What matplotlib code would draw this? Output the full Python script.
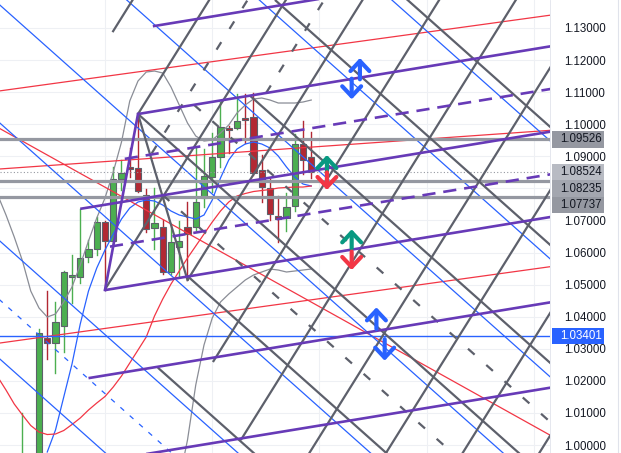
import matplotlib.pyplot as plt
from matplotlib.patches import Rectangle
from matplotlib.lines import Line2D
import numpy as np

plt.rcParams['font.family'] = ['Liberation Sans', 'DejaVu Sans']

# candles: bar index, open, high, low, close
c_bar = [0, 2, 3, 4, 5, 6, 7, 8, 9, 10, 11, 12, 13, 14, 15, 16, 17, 18,
         19, 20, 21, 22, 23, 24, 25, 26, 27, 28, 29, 30, 31, 32, 33, 34, 35]
c_open = [0.9820, 0.9900, 1.03335, 1.03180, 1.03709, 1.05237, 1.05237, 1.05860,
          1.06110, 1.06951, 1.06359, 1.08292, 1.08666, 1.08635, 1.07793, 1.06764,
          1.06796, 1.05393, 1.06172, 1.06796, 1.06796, 1.07700, 1.08354, 1.08978,
          1.09882, 1.09882, 1.10193, 1.10224, 1.08572, 1.08011, 1.07138, 1.07076,
          1.07450, 1.09383, 1.08978]
c_high = [1.00998, 1.03616, 1.04800, 1.04458, 1.05424, 1.05923, 1.07357, 1.06390,
          1.07107, 1.06983, 1.08666, 1.08884, 1.09258, 1.10318, 1.07980, 1.08011,
          1.07014, 1.06889, 1.06983, 1.07575, 1.09289, 1.09227, 1.09726, 1.10692,
          1.09944, 1.10941, 1.10941, 1.10973, 1.09040, 1.08292, 1.07762, 1.07855,
          1.09694, 1.10100, 1.09757]
c_low = [0.9800, 0.9850, 1.02681, 1.02244, 1.02899, 1.04426, 1.05050, 1.05704,
         1.05923, 1.04832, 1.06234, 1.07949, 1.08354, 1.07887, 1.06640, 1.06110,
         1.05330, 1.05330, 1.05237, 1.05143, 1.06702, 1.07419, 1.07887, 1.08666,
         1.09102, 1.09850, 1.09414, 1.08416, 1.07575, 1.07014, 1.06328, 1.06671,
         1.07294, 1.08448, 1.08323]
c_close = [0.9960, 1.03491, 1.03180, 1.03834, 1.05393, 1.05268, 1.05829, 1.06110,
           1.06951, 1.06359, 1.08292, 1.08479, 1.08603, 1.07918, 1.06733, 1.06920,
           1.05393, 1.06328, 1.06359, 1.06577, 1.07575, 1.08385, 1.08978, 1.09913,
           1.09819, 1.10100, 1.10131, 1.08479, 1.08042, 1.07201, 1.07045, 1.07419,
           1.09383, 1.08884, 1.08524]

# indicators
ma_bar = list(range(-3, 36))
red_ma = [1.02120, 1.01714, 1.01278, 1.00935, 1.00608, 1.00405, 1.00327, 1.00343,
          1.00452, 1.00639, 1.00842, 1.01091, 1.01309, 1.01512, 1.01808, 1.02151,
          1.02556, 1.02961, 1.03367, 1.04021, 1.04551, 1.05019, 1.05424, 1.05829,
          1.06203, 1.06577, 1.06951, 1.07294, 1.07575, 1.07762, 1.07840, 1.07902,
          1.07933, 1.07965, 1.08011, 1.08027, 1.08042, 1.08042, 1.08074]
band_up = [1.07793, 1.07170, 1.06484, 1.05736, 1.04800, 1.04271, 1.03990, 1.04084,
           1.04458, 1.04925, 1.05611, 1.06359, 1.07076, 1.07700, 1.08510, 1.09445,
           1.10723, 1.11347, 1.11627, 1.11658, 1.11596, 1.11160, 1.10599, 1.10037,
           1.09632, 1.09476, 1.09507, 1.09726, 1.09975, 1.10349, 1.10599, 1.10786,
           1.10817, 1.10754, 1.10661, 1.10661, 1.10661, 1.10692, 1.10754]
basis_bar = list(range(3, 36))
basis = [0.99782, 1.00468, 1.01496, 1.02525, 1.03772, 1.04800, 1.05517, 1.06079,
         1.06577, 1.07045, 1.07388, 1.07575, 1.07637, 1.07606, 1.07481, 1.07294,
         1.07170, 1.07107, 1.07045, 1.07170, 1.07637, 1.08323, 1.08884, 1.09227,
         1.09383, 1.09445, 1.09383, 1.09258, 1.09009, 1.08666, 1.08354, 1.08136,
         1.08074]
lo_bar = list(range(19, 36))
band_lo = [0.98909, 1.00156, 1.01870, 1.03117, 1.03959, 1.04458, 1.04707, 1.04925,
           1.05143, 1.05299, 1.05393, 1.05486, 1.05455, 1.05393, 1.05424, 1.05455,
           1.05486]

# drawing tools: purple parallel channel (anchor bar 14)
pur_slope = 0.000422
pur_base = 1.10318
pur_step = 0.0266
pur_k = [1, 0, -1, -2, -3, -4]
pur_start = [15.8, 14, 7, 10, 8, 13]
pur_dash_k = [-0.5, -1.5]
pur_dash_start = [12.4, 10.6]
pivot_a = (10, 1.04832)
pivot_b = (14, 1.10318)
pivot_c = (20, 1.05143)

# steep gray fan lines: offset in bars at price pur_base, start price
st_slope = 0.004115
st_step = 9.29
st_k = [-1, 0, 1, 2, 3, 4, 5, 6, 7, 8]
st_start = [1.1287, 1.10318, 1.04832, 1.05143, 1.02587, 1.00156, 0.99, 0.99, 0.99, 0.99]
st_dash_k = [0.5, 1.5]
st_dash_start = [1.09093, 1.10973]

# down-sloping gray lines through pivot B
dn_slope = -0.002289
dn_step = 0.03678
dn_k = [-3, -2, -1, 0, 1, 2]
dn_start = [36.5, 30.6, 27.6, 14, 20, 16.4]
dn_dash_k = [-0.5, 0.5]
dn_dash_start = [20.8, 17.0]

# thin blue parallels
bl_base = 1.09882
bl_k = [-3, -2, -1, 0, 1, 2, 3]
bl_dash_k = [2.5]

# thin red trend lines: (bar0, p0, bar1, p1)
red_lines = [(-3, 1.1103, 64, 1.1340), (-3, 1.0860, 64, 1.0981),
             (-3, 1.0317, 64, 1.0556), (-3, 1.0990, 64, 1.0030)]

# horizontal levels
gray_levels = [1.09526, 1.08235, 1.07737]
last_price = 1.08524
blue_level = 1.03401

# arrow marks: bar, tail price, tip price, color
arrows = [(40.9, 1.11400, 1.12064, '#2962ff'), (39.9, 1.11420, 1.10776, '#2962ff'),
          (36.9, 1.08480, 1.09040, '#089981'), (36.9, 1.08500, 1.07949, '#f23645'),
          (39.9, 1.06130, 1.06724, '#089981'), (39.9, 1.06030, 1.05455, '#f23645'),
          (42.9, 1.03620, 1.04292, '#2962ff'), (43.9, 1.03300, 1.02628, '#2962ff')]

# price scale
ticks = [1.00, 1.01, 1.02, 1.03, 1.04, 1.05, 1.06, 1.07, 1.09, 1.10, 1.11, 1.12, 1.13]
box_value = [1.09526, 1.08524, 1.08235, 1.07737, 1.03401]
box_pos = [1.09526, 1.08524, 1.07996, 1.07481, 1.03401]
box_fc = ['#9598a1', '#b8bbc3', '#a3a6af', '#9598a1', '#2962ff']
box_tc = ['#131722', '#131722', '#131722', '#131722', 'white']

X0, X1 = -2.727, 63.94
Y0, Y1 = 0.99751, 1.13872

fig = plt.figure(figsize=(6.21, 4.53), dpi=100)
ax = fig.add_axes([0, 0, 550 / 621, 1])
ax.set_xlim(X0, X1)
ax.set_ylim(Y0, Y1)

PURPLE = '#673ab7'
GRAY = '#5d606b'

# grid
for t in np.arange(1.00, 1.14, 0.01):
    ax.axhline(t, color='#eef0f4', lw=0.8, zorder=0)
for b in [10, 23, 36, 49, 62]:
    ax.axvline(b, color='#eef0f4', lw=0.8, zorder=0)

# candles
for b, o, h, l, c in zip(c_bar, c_open, c_high, c_low, c_close):
    up = c >= o
    col = '#4caf50' if up else '#b22833'
    ax.plot([b, b], [l, h], color=col, lw=1.0, zorder=2)
    lo = min(o, c)
    ht = max(abs(c - o), 0.0005)
    ax.add_patch(Rectangle((b - 0.37, lo), 0.74, ht, facecolor=col,
                           edgecolor='#5d606b', lw=0.8, zorder=2.5))

# indicators
ax.plot(ma_bar, band_up, color='#8a8d96', lw=0.9, zorder=3)
ax.plot(lo_bar, band_lo, color='#8a8d96', lw=0.9, zorder=3)
ax.plot(basis_bar, basis, color='#2962ff', lw=0.9, zorder=3)
ax.plot(ma_bar, red_ma, color='#f23645', lw=0.9, zorder=3)

# thin red lines
for b0, p0, b1, p1 in red_lines:
    ax.plot([b0, b1], [p0, p1], color='#f23645', lw=0.9, zorder=3)

# thin blue parallels
bx = np.array([X0 - 1, X1 + 1])
for k in bl_k:
    ax.plot(bx, bl_base - dn_step * k + dn_slope * (bx - 14), color='#2962ff', lw=0.9, zorder=3)
for k in bl_dash_k:
    ax.plot(bx, bl_base - dn_step * k + dn_slope * (bx - 14), color='#2962ff', lw=0.9,
            ls=(0, (4, 6)), zorder=3)

# horizontal levels
for lv in gray_levels:
    ax.axhline(lv, color='#9598a1', lw=2.3, zorder=4)
ax.axhline(last_price, color='#9598a1', lw=0.8, ls=(0, (1, 2)), zorder=4)
ax.axhline(blue_level, color='#2962ff', lw=1.0, zorder=4)

# steep gray lines
for k, ps in zip(st_k, st_start):
    b_at = pivot_b[0] + st_step * k
    bs = b_at + (ps - pur_base) / st_slope
    be = b_at + (Y1 + 0.01 - pur_base) / st_slope
    ax.plot([bs, be], [ps, Y1 + 0.01], color=GRAY, lw=1.6, zorder=5,
            solid_capstyle='butt')
for k, ps in zip(st_dash_k, st_dash_start):
    b_at = pivot_b[0] + st_step * k
    bs = b_at + (ps - pur_base) / st_slope
    be = b_at + (Y1 + 0.01 - pur_base) / st_slope
    ax.plot([bs, be], [ps, Y1 + 0.01], color=GRAY, lw=1.6, ls=(0, (4, 7)), zorder=5)

# down-sloping gray lines
for k, bs in zip(dn_k, dn_start):
    xs = np.array([bs, X1 + 2])
    ax.plot(xs, pur_base - dn_step * k + dn_slope * (xs - 14), color=GRAY, lw=1.6,
            zorder=5, solid_capstyle='butt')
for k, bs in zip(dn_dash_k, dn_dash_start):
    xs = np.array([bs, X1 + 2])
    ax.plot(xs, pur_base - dn_step * k + dn_slope * (xs - 14), color=GRAY, lw=1.6,
            ls=(0, (4, 7)), zorder=5)
# B to C leg
ax.plot([pivot_b[0], pivot_c[0]], [pivot_b[1], pivot_c[1]], color=GRAY, lw=1.6, zorder=5)

# purple channel
for k, bs in zip(pur_k, pur_start):
    xs = np.array([bs, X1 + 1])
    ax.plot(xs, pur_base + pur_step * k + pur_slope * (xs - 14), color=PURPLE, lw=1.9,
            zorder=6, solid_capstyle='butt')
for k, bs in zip(pur_dash_k, pur_dash_start):
    xs = np.array([bs, X1 + 1])
    ax.plot(xs, pur_base + pur_step * k + pur_slope * (xs - 14), color=PURPLE, lw=1.9,
            ls=(0, (5, 3)), zorder=6)
ax.plot([pivot_a[0], pivot_b[0]], [pivot_a[1], pivot_b[1]], color=PURPLE, lw=1.9, zorder=6)

# arrow marks
for b, p0, p1, col in arrows:
    ax.annotate('', xy=(b, p1), xytext=(b, p0),
                arrowprops=dict(arrowstyle='->,head_length=0.36,head_width=0.34',
                                lw=3.0, color=col, mutation_scale=20,
                                shrinkA=0, shrinkB=0, capstyle='round',
                                joinstyle='round'), zorder=7)

# price scale on the right
ax.set_xticks([])
ax.yaxis.tick_right()
ax.set_yticks(ticks)
ax.set_yticklabels([f'{t:.5f}' for t in ticks])
ax.tick_params(axis='y', length=0, pad=10, labelsize=8.3, labelcolor='#131722')
for s in ['left', 'top', 'bottom']:
    ax.spines[s].set_visible(False)
ax.spines['right'].set_color('#e0e3eb')
ax.spines['right'].set_linewidth(0.6)
ax.text(1 + 10 / 550, 1.14, '1.14000', transform=ax.get_yaxis_transform(),
        va='center', ha='left', fontsize=8.3, color='#131722', clip_on=False)

for lv, pos, fc, tc in zip(box_value, box_pos, box_fc, box_tc):
    ax.add_patch(Rectangle((1 + 2 / 550, pos - 0.0026), 52 / 550, 0.0051,
                           transform=ax.get_yaxis_transform(), facecolor=fc,
                           edgecolor='none', clip_on=False, zorder=8))
    ax.text(1 + 10 / 550, pos, f'{lv:.5f}', transform=ax.get_yaxis_transform(),
            va='center', ha='left', fontsize=8.3, color=tc, clip_on=False, zorder=9)

fig.add_artist(Line2D([617.5 / 621, 617.5 / 621], [0, 1], color='#e0e3eb', lw=0.8))

fig.savefig('out.png', dpi=100)
